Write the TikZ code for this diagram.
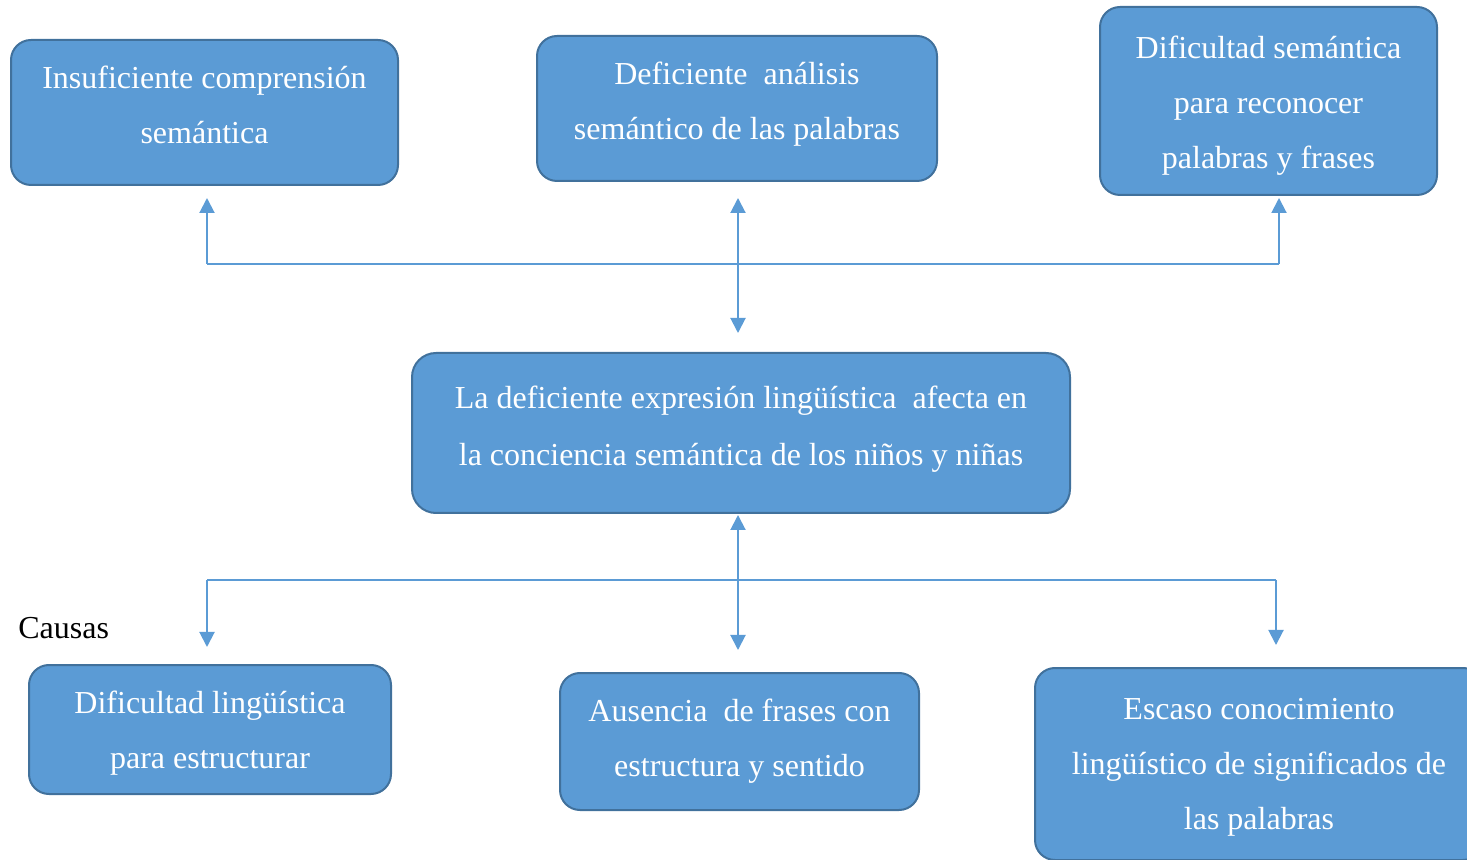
\documentclass[tikz,border=0pt]{standalone}
\usepackage{fontspec}
\setmainfont{Liberation Serif}
\usetikzlibrary{shapes,arrows.meta,positioning}
\definecolor{boxblue}{HTML}{5B9BD5}
\definecolor{boxedge}{HTML}{41719C}

\tikzset{
  block/.style={draw=boxedge, line width=1pt, fill=boxblue, rounded corners=10pt, inner sep=0pt},
  blocktext/.style={text=white, align=center, inner sep=0pt, font=\fontsize{16}{27.5}\selectfont},
  line/.style={draw=boxblue, line width=1pt},
}

\begin{document}
\begin{tikzpicture}[x=0.5pt, y=-0.5pt, >={Triangle[width=7.5pt,length=7.5pt]}]
	\clip (0,0) rectangle (1467,860);
	% Effects on top
	\node [block, minimum width=193.5pt, minimum height=72.5pt,
	  label={[blocktext, yshift=4pt]center:{Insuficiente comprensión\\semántica}}] (insuf) at (204.5,112.5) {};
	\node [block, minimum width=200pt, minimum height=72.5pt,
	  label={[blocktext, yshift=2pt]center:{Deficiente\ \ análisis\\semántico de las palabras}}] (analisis) at (737,108.5) {};
	\node [block, minimum width=168.5pt, minimum height=94pt,
	  label={[blocktext, yshift=-2.5pt]center:{Dificultad semántica\\para reconocer\\palabras y frases}}] (reconocer) at (1268.5,101) {};
	% The problem
	\node [block, minimum width=329pt, minimum height=80pt, rounded corners=12pt,
	  label={[blocktext, yshift=2pt, font=\fontsize{16}{28.5}\selectfont]center:{La deficiente expresión lingüística\ \ afecta en\\la conciencia semántica de los niños y niñas}}] (problema) at (741,433) {};
	% Causes below
	\node [anchor=west, inner sep=0pt, font=\fontsize{16}{19}\selectfont] (causas) at (18,628) {Causas};
	\node [block, minimum width=181pt, minimum height=64.5pt,
	  label={[blocktext, yshift=-2pt]center:{Dificultad lingüística\\para estructurar}}] (estructurar) at (210,729.5) {};
	\node [block, minimum width=179.5pt, minimum height=68.5pt,
	  label={[blocktext]center:{Ausencia\ \ de frases con\\estructura y sentido}}] (ausencia) at (739.5,741.5) {};
	\node [block, minimum width=224pt, minimum height=96pt,
	  label={[blocktext, yshift=-1.75pt]center:{Escaso conocimiento\\lingüístico de significados de\\las palabras}}] (escaso) at (1259,764) {};
	% Connector ends
	\coordinate (tleft) at (207,264);
	\coordinate (tright) at (1279,264);
	\coordinate (tlefttip) at (207,198);
	\coordinate (trighttip) at (1279,198);
	\coordinate (tmidup) at (738,198);
	\coordinate (tmiddown) at (738,333);
	\coordinate (bleft) at (207,580);
	\coordinate (bright) at (1276,580);
	\coordinate (blefttip) at (207,647);
	\coordinate (brighttip) at (1276,645);
	\coordinate (bmidup) at (738,515);
	\coordinate (bmiddown) at (738,650);
	% Once the nodes are placed, connecting them is easy.
	\draw [line] (tleft) -- (tright);
	\draw [line,->] (tleft) -- (tlefttip);
	\draw [line,->] (tright) -- (trighttip);
	\draw [line,<->] (tmidup) -- (tmiddown);
	\draw [line] (bleft) -- (bright);
	\draw [line,->] (bleft) -- (blefttip);
	\draw [line,->] (bright) -- (brighttip);
	\draw [line,<->] (bmidup) -- (bmiddown);
\end{tikzpicture}
\end{document}
